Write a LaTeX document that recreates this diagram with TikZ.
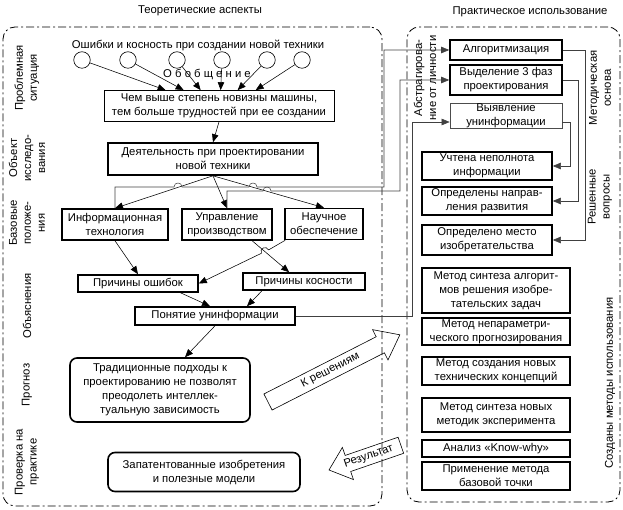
\documentclass[tikz,border=0pt]{standalone}
\usepackage{fontspec}
\setmainfont{Liberation Sans}
\usetikzlibrary{arrows.meta,calc}
\begin{document}
\begin{tikzpicture}[x=1pt,y=-1pt,
  every node/.style={font=\fontsize{11.3}{14}\selectfont, inner sep=0pt, align=center},
  tbox/.style={draw, line width=1.6pt},
  nbox/.style={draw, line width=0.7pt},
  rbox/.style={tbox, rounded corners=7pt},
  side/.style={rotate=90},
  arr/.style={-{Triangle[length=8pt,width=6.5pt]}, line width=0.55pt},
  garr/.style={arr, draw=black!75, fill=none},
  region/.style={draw, line width=0.8pt, rounded corners=12pt, dash pattern=on 8pt off 3pt on 2pt off 3pt},
  bigar/.style={draw, line width=0.6pt},
  circ/.style={circle, draw, line width=0.6pt, minimum size=16.5pt}
]
\useasboundingbox (0,0) rectangle (623,510);

% regions
\node[region, minimum width=379pt, minimum height=479pt] (lreg) at (192.5,266.5) {};
\node[region, minimum width=213pt, minimum height=475pt] (rreg) at (513.5,264.5) {};
\node (tt) at (200,11) {Теоретические аспекты};
\node (tp) at (530,12) {Практическое использование};

% side labels left
\node[side] (s1) at (27,78) {Проблемная\\ситуация};
\node[side] (s2) at (27,158) {Объект\\исследо-\\вания};
\node[side] (s3) at (27,223) {Базовые\\положе-\\ния};
\node[side] (s4) at (27,306) {Объяснения};
\node[side] (s5) at (27,385) {Прогноз};
\node[side] (s6) at (27,462) {Проверка на\\практике};

% side labels right
\node[side] (r1) at (425,78) {Абстрагирова-\\ние от личности};
\node[side] (r2) at (600,88) {Методическая\\основа};
\node[side] (r3) at (600,197) {Решенные\\вопросы};
\node[side] (r4) at (610,383) {Созданы методы использования};

% top
\node (err) at (198,45) {Ошибки и косность при создании новой техники};
\foreach \i/\x in {1/82,2/128,3/177,4/222,5/267,6/302} \node[circ] (c\i) at (\x,60) {};
\node (gen) at (207,74) {О б о б щ е н и е};

\node[nbox, minimum width=230pt, minimum height=31pt] (b1) at (219,106) {Чем выше степень новизны машины,\\тем больше трудностей при ее создании};
\foreach \i/\d in {1/62,2/80,3/97,4/117,5/134,6/152} \coordinate (p\i) at ($(b1.north west)+(\d,0)$);
\foreach \i in {1,...,6} \draw[arr] (c\i) -- (p\i);

\node[tbox, minimum width=210pt, minimum height=32pt] (b2) at (213,159) {Деятельность при проектировании\\новой техники};
\draw[arr] (b1.south) -- (b2.north);

\node[tbox, minimum width=106pt, minimum height=31pt] (info) at (115,224.5) {Информационная\\технология};
\node[tbox, minimum width=90pt, minimum height=31pt] (upr) at (227,224.5) {Управление\\производством};
\node[tbox, minimum width=78pt, minimum height=31pt] (nauch) at (324,224) {Научное\\обеспечение};
\draw[arr] (b2.south) -- (info.north);
\draw[arr] (b2.south) -- (upr.north);
\draw[arr] (b2.south) -- (nauch.north);

\node[tbox, minimum width=120pt, minimum height=17pt] (osh) at (138,283.5) {Причины ошибок};
\node[tbox, minimum width=122pt, minimum height=17pt] (kosn) at (304,281.5) {Причины косности};
\node[tbox, minimum width=160pt, minimum height=18pt] (pon) at (215,316) {Понятие унинформации};

\draw[arr] (info.south) -- (osh.north);
\draw[arr] ($(upr.south)!0.55!(upr.south east)$) -- ($(kosn.north west)!0.38!(kosn.north east)$);
\coordinate (nsw) at ($(nauch.south west)+(1,0)$);
\draw[arr] (nsw) -- (268.6,249.9) .. controls (266.3,245.1) and (259.1,248.5) .. (261.4,253.3) -- (osh.east);
\draw[arr] ($(osh.south)!0.7!(osh.south east)$) -- ($(pon.north)+(-5,0)$);
\draw[arr] ($(kosn.south west)!0.16!(kosn.south east)$) -- ($(pon.north)+(32,0)$);

\node[rbox, minimum width=180pt, minimum height=64pt] (trad) at (160,390) {Традиционные подходы к\\проектированию не позволят\\преодолеть интеллек-\\туальную зависимость};
\draw[arr] (pon.south) -- ($(trad.north)+(25,0)$);

\node[rbox, minimum width=192pt, minimum height=39pt] (pat) at (204,472) {Запатентованные изобретения\\и полезные модели};

% right column
\node[tbox, minimum width=112pt, minimum height=20pt] (algo) at (506,50) {Алгоритмизация};
\node[tbox, minimum width=112pt, minimum height=30pt] (vydel) at (506,80) {Выделение 3 фаз\\проектирования};
\node[nbox, draw=black!70, minimum width=112pt, minimum height=25pt] (vyyav) at (506,115.5) {Выявление\\унинформации};
\node[tbox, minimum width=130pt, minimum height=28pt] (uch) at (487,166) {Учтена неполнота\\информации};
\node[tbox, minimum width=130pt, minimum height=28pt] (napr) at (487,201) {Определены направ-\\ления развития};
\node[tbox, minimum width=130pt, minimum height=30pt] (mesto) at (487,240) {Определено место\\изобретательства};

\node[tbox, minimum width=148pt, minimum height=45pt] (m1) at (496,290.5) {Метод синтеза алгорит-\\мов решения изобре-\\тательских задач};
\node[tbox, minimum width=148pt, minimum height=27pt] (m2) at (496,331.5) {Метод непараметри-\\ческого прогнозирования};
\node[tbox, minimum width=148pt, minimum height=28pt] (m3) at (496,371) {Метод создания новых\\технических концепций};
\node[tbox, minimum width=148pt, minimum height=34pt] (m4) at (496,415) {Метод синтеза новых\\методик эксперимента};
\node[tbox, minimum width=148pt, minimum height=17pt] (m5) at (496,448.5) {Анализ «Know-why»};
\node[tbox, minimum width=148pt, minimum height=28pt] (m6) at (496,476) {Применение метода\\базовой точки};

% gray connectors
\draw[garr] (info.north) |- (174,187) .. controls (174,181.7) and (182,181.7) .. (182,187) -- (249,187) .. controls (249,181.7) and (257,181.7) .. (257,187) -- (384,187) |- (algo.west);
\draw[garr] (upr.north) |- (263,191) .. controls (263,185.7) and (271,185.7) .. (271,191) -- (400,191) |- (vydel.west);
\draw[garr] (pon.east) -| (412,122) -- (vyyav.west |- 412,122);
\draw[garr] (algo.east) -| (585,240) -- (mesto.east);
\draw[garr] (vydel.east) -| (578,201) -- (napr.east);
\draw[garr] (vyyav.east |- 412,122) -| (570,166) -- (uch.east);

% big hollow arrows
\begin{scope}[shift={(268,402)}, rotate=27]
\draw[bigar] (0,-9) -- (126,-9) -- (126,-17) -- (148,0) -- (126,17) -- (126,9) -- (0,9) -- cycle;
\node[rotate=27] (kr) at (70,0) {К решениям};
\end{scope}
\begin{scope}[shift={(329,470)}, rotate=19]
\draw[bigar] (0,0) -- (20,-17) -- (20,-8.5) -- (76,-8.5) -- (76,8.5) -- (20,8.5) -- (20,17) -- cycle;
\node[rotate=19] (res) at (42,0) {Результат};
\end{scope}
\end{tikzpicture}
\end{document}
